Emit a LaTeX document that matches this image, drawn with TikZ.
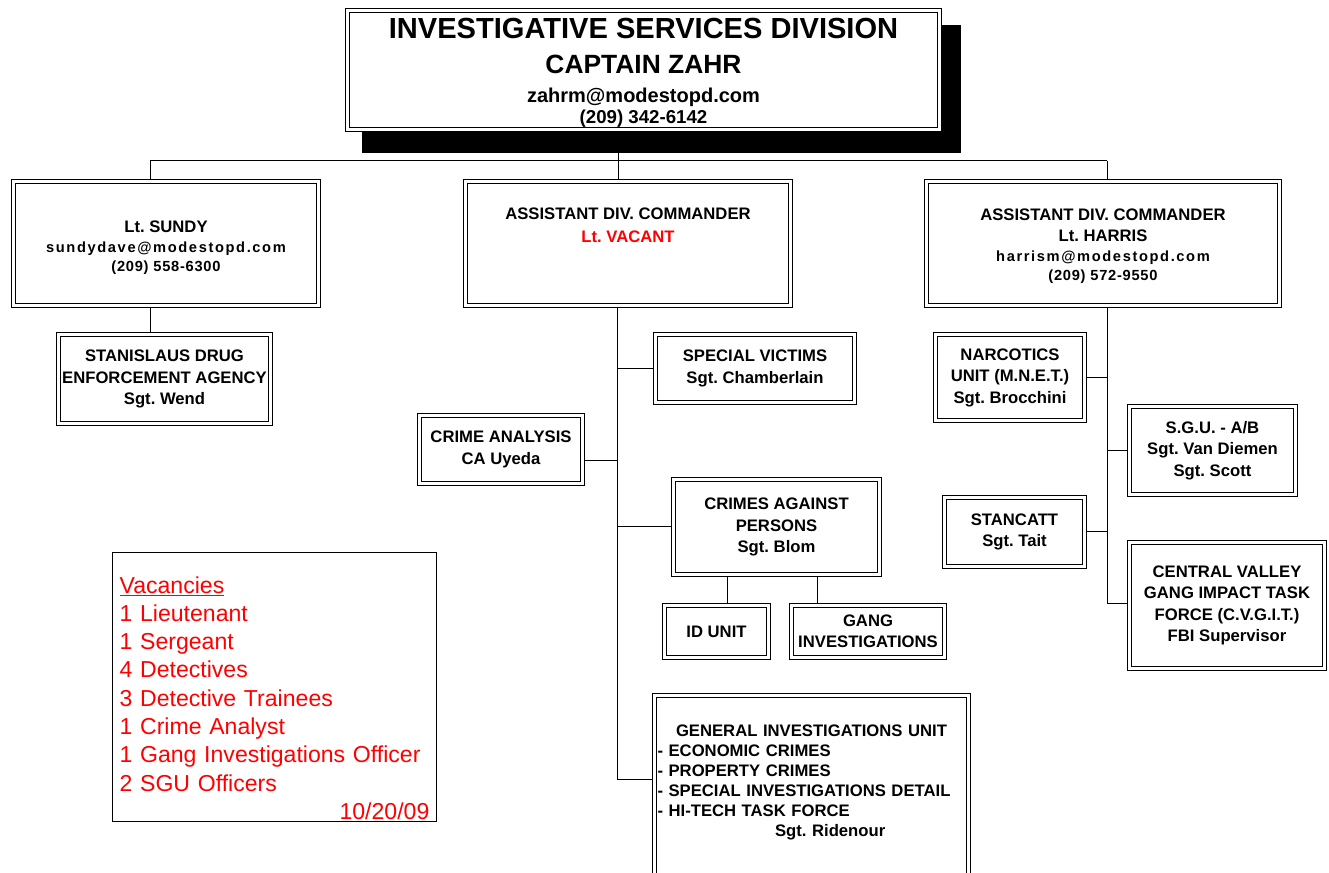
\documentclass[tikz,border=0pt]{standalone}
\usepackage{fontspec}
\setmainfont{Liberation Sans}
\newfontfamily\mailfont[LetterSpace=11]{Liberation Sans}
\newfontfamily\phonefont[LetterSpace=5]{Liberation Sans}
\usepackage{xcolor}
\usepackage{tikz}
\usetikzlibrary{backgrounds}
\definecolor{vacred}{RGB}{255,0,0}
\newcommand{\mailtext}[1]{{\mailfont\bfseries\fontsize{11}{15}\selectfont #1}}
\newcommand{\phonetext}[1]{{\phonefont\bfseries\fontsize{11}{15}\selectfont #1}}
\setlength{\parindent}{0pt}
\frenchspacing

\begin{document}
\begin{tikzpicture}[x=0.75pt, y=-0.75pt,
      unit/.style={rectangle, draw=black, line width=0.7pt, double=white,
                   double distance=2.2pt, fill=white, inner sep=0pt,
                   align=center, font=\bfseries\fontsize{12.5}{16.1}\selectfont},
      memo/.style={rectangle, draw=black, line width=1pt, fill=white,
                   minimum width=242.8pt, minimum height=201.5pt,
                   inner xsep=5.25pt, inner ysep=0pt, text width=232.3pt,
                   align=left, text=vacred, font=\fontsize{17.3}{21.2}\selectfont},
      link/.style={line width=0.75pt, color=black}
    ]
  \useasboundingbox (0,0) rectangle (1329,873);

  \node[unit, minimum width=444pt, minimum height=89.4pt,
        font=\bfseries\fontsize{21.8}{26.25}\selectfont] (top) at (643.5,70)
    {\rule{0pt}{19.5pt}INVESTIGATIVE SERVICES DIVISION\\
     {\fontsize{19.8}{24}\selectfont CAPTAIN ZAHR}\\[-4.8pt]
     {\fontsize{15}{18}\selectfont zahrm@modestopd.com}\\[-10pt]
     {\fontsize{14}{17}\selectfont (209) 342-6142}};

  \node[unit, minimum width=228.9pt, minimum height=93.15pt] (sundy) at (166,243.5)
    {\rule{0pt}{15.7pt}Lt. SUNDY\\[-1.1pt]
     \mailtext{sundydave@modestopd.com}\\[-1.9pt]
     \phonetext{(209) 558-6300}};
  \node[unit, minimum width=243.9pt, minimum height=93.15pt] (vacant) at (628,243.5)
    {ASSISTANT DIV. COMMANDER\\[1pt]
     \textcolor{vacred}{Lt. VACANT}\\ \mbox{}\\[-4.5pt] \mbox{}};
  \node[unit, minimum width=264.9pt, minimum height=93.15pt] (harris) at (1103,243.5)
    {\rule{0pt}{12.5pt}ASSISTANT DIV. COMMANDER\\[-0.3pt]
     Lt. HARRIS\\[-1.1pt]
     \mailtext{harrism@modestopd.com}\\[-1.9pt]
     \phonetext{(209) 572-9550}};

  \node[unit, minimum width=159.15pt, minimum height=66.9pt] (sdea) at (164.5,379)
    {STANISLAUS DRUG\\ENFORCEMENT AGENCY\\Sgt. Wend};

  \node[unit, minimum width=149.4pt, minimum height=51.15pt] (sv) at (755,368.5)
    {SPECIAL VICTIMS\\Sgt. Chamberlain};
  \node[unit, minimum width=122.4pt, minimum height=51.15pt] (ca) at (501,449.5)
    {CRIME ANALYSIS\\CA Uyeda};
  \node[unit, minimum width=154.65pt, minimum height=71.4pt] (cap) at (776.5,527)
    {CRIMES AGAINST\\PERSONS\\Sgt. Blom};
  \node[unit, minimum width=78.15pt, minimum height=39.15pt] (idunit) at (716.5,631.5)
    {ID UNIT};
  \node[unit, minimum width=114.9pt, minimum height=39.15pt] (gang) at (868,631.5)
    {GANG\\INVESTIGATIONS};
  \node[unit, minimum width=235.6pt, minimum height=143.4pt, text width=231pt,
        inner xsep=2.3pt, align=left, font=\bfseries\fontsize{12.5}{15}\selectfont]
        (giu) at (811.5,791)
    {\makebox[231pt][c]{GENERAL INVESTIGATIONS UNIT}\\
     - ECONOMIC CRIMES\\
     - PROPERTY CRIMES\\
     - SPECIAL INVESTIGATIONS DETAIL\\
     - HI-TECH TASK FORCE\\
     \makebox[231pt][c]{\hspace{28pt}Sgt. Ridenour}\\
     \mbox{}};

  \node[unit, minimum width=111.9pt, minimum height=64.65pt] (narc) at (1010,377.5)
    {NARCOTICS\\UNIT (M.N.E.T.)\\Sgt. Brocchini};
  \node[unit, minimum width=124.65pt, minimum height=66.15pt] (sgu) at (1212.5,450.5)
    {S.G.U. - A/B\\Sgt. Van Diemen\\Sgt. Scott};
  \node[unit, minimum width=105.15pt, minimum height=51.9pt] (stancatt) at (1014.5,532)
    {STANCATT\\Sgt. Tait};
  \node[unit, minimum width=146.4pt, minimum height=94.65pt] (cvg) at (1227,605.5)
    {CENTRAL VALLEY\\GANG IMPACT TASK\\FORCE (C.V.G.I.T.)\\FBI Supervisor};

  \node[memo] (vac) at (274.5,687)
    {\rule{0pt}{29pt}\underline{Vacancies}\\
     1 Lieutenant\\
     1 Sergeant\\
     4 Detectives\\
     3 Detective Trainees\\
     1 Crime Analyst\\
     1 Gang Investigations Officer\\
     2 SGU Officers\\
     \makebox[232.3pt][r]{10/20/09}};

  \begin{scope}[on background layer]
    \fill[black] ([shift={(15,15)}]top.north west) rectangle ([shift={(21.4,23.4)}]top.south east);
    \coordinate (hub) at (618,161);
    \coordinate (hl) at (150,161);
    \coordinate (hr) at (1107,161);
    \coordinate (ms) at (617,779);
    \coordinate (caj) at (617,461);
    \coordinate (rs) at (1107,603);
    \draw[link] (hl) -- (hr);
    \draw[link] (top.south -| hub) -- (vacant.north -| hub);
    \draw[link] (hl) -- (sundy.north -| hl);
    \draw[link] (hr) -- (harris.north -| hr);
    \draw[link] (sundy.south -| hl) -- (sdea.north -| hl);
    \draw[link] (vacant.south -| ms) -- (ms) -- (giu.west |- ms);
    \draw[link] (sv.west) -- (sv.west -| ms);
    \draw[link] (caj) -- (ca.east |- caj);
    \draw[link] (cap.west) -- (cap.west -| ms);
    \draw[link] ([xshift=7.9pt]idunit.north) -- ([xshift=7.9pt]idunit.north |- cap.south);
    \draw[link] ([xshift=-38.25pt]gang.north) -- ([xshift=-38.25pt]gang.north |- cap.south);
    \draw[link] (harris.south -| rs) -- (rs) -- (cvg.west |- rs);
    \draw[link] (narc.east) -- (narc.east -| rs);
    \draw[link] (sgu.west) -- (sgu.west -| rs);
    \draw[link] (stancatt.east) -- (stancatt.east -| rs);
  \end{scope}
\end{tikzpicture}
\end{document}
